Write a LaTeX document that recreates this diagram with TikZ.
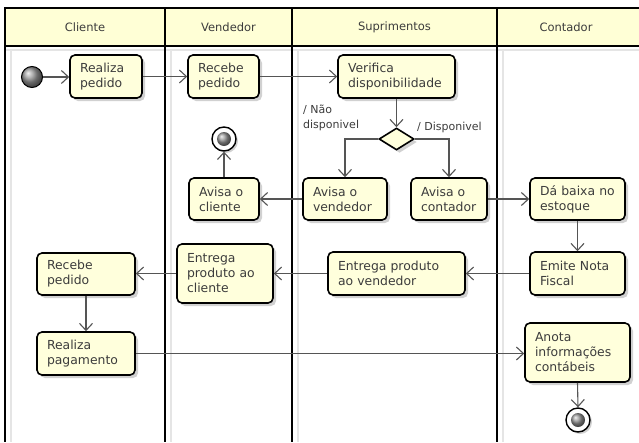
\documentclass[tikz,border=0pt]{standalone}
\usepackage{fontspec}
\setmainfont{DejaVu Sans}
\usetikzlibrary{arrows.meta,shapes.geometric,shadows,calc}
\definecolor{boxfill}{HTML}{FFFFDC}
\definecolor{headfill}{HTML}{FFFFD6}
\definecolor{txt}{HTML}{3C3C3C}
\definecolor{edgecol}{HTML}{555555}
\begin{document}
\begin{tikzpicture}[x=1pt,y=-1pt,
  actbox/.style={draw=black, line width=1.6pt, rounded corners=5pt, fill=boxfill,
    drop shadow={shadow xshift=3pt,shadow yshift=-3pt,fill=black,opacity=0.18},
    align=left, text=txt, font=\fontsize{12.4}{15}\selectfont,
    inner xsep=10pt, inner ysep=3pt, text width=#1, minimum height=43pt},
  flow/.style={draw=edgecol, line width=1.1pt, -{Straight Barb[length=7pt,width=13pt]}},
  lane/.style={line width=1.8pt, black},
  laneshadow/.style={line width=2pt, black!10},
  headtext/.style={text=txt, font=\fontsize{11.5}{15}\selectfont},
  guard/.style={text=txt, font=\fontsize{11}{15}\selectfont, inner sep=0pt, align=left},
  decision/.style={diamond, draw=black, line width=1.6pt, fill=boxfill, aspect=1.6,
    minimum width=35pt, minimum height=22pt, inner sep=0pt,
    drop shadow={shadow xshift=3pt,shadow yshift=-3pt,fill=black,opacity=0.18}},
  startnode/.style={circle, draw=black, line width=1pt, minimum size=21pt, inner sep=0pt,
    shading=ball, ball color=gray!80},
  endring/.style={circle, draw=black, line width=1.4pt, fill=white, minimum size=24pt, inner sep=0pt,
    drop shadow={shadow xshift=2pt,shadow yshift=-2pt,fill=black,opacity=0.18}},
  endcore/.style={circle, minimum size=14pt, inner sep=0pt, shading=ball, ball color=gray!80}
]
\useasboundingbox (0,0) rectangle (639,442);
\fill[white] (0,0) rectangle (639,442);
% header
\fill[headfill] (5,8) rectangle (639,46);
\draw[laneshadow] (5,50) -- (639,50);
\foreach \x in {5,165,292,497} { \draw[laneshadow] (\x+6,50) -- (\x+6,442); }
\draw[lane] (639,8) -- (5,8) -- (5,442);
\draw[lane] (5,46) -- (639,46);
\foreach \x in {165,292,497} { \draw[lane] (\x,8) -- (\x,442); }
\node[headtext] (h1) at (85,27) {Cliente};
\node[headtext] (h2) at (228.5,27) {Vendedor};
\node[headtext] (h3) at (394.5,27) {Suprimentos};
\node[headtext] (h4) at (566,27) {Contador};

% nodes
\node[startnode] (start) at (32,77) {};
\node[actbox=52pt] (n1) at (106,76.5) {Realiza\\pedido};
\node[actbox=51pt] (n2) at (223.5,76.5) {Recebe\\pedido};
\node[actbox=97pt] (n3) at (396.5,76.5) {Verifica\\disponibilidade};
\node[decision] (d) at (396.5,139) {};
\node[actbox=64pt, minimum height=42pt] (n4) at (345,199) {Avisa o\\vendedor};
\node[actbox=56pt, minimum height=42pt] (n5) at (449,199) {Avisa o\\contador};
\node[actbox=75pt, minimum height=42pt] (n6) at (577.5,199) {Dá baixa no\\estoque};
\node[actbox=50pt, minimum height=42pt] (n7) at (224,199) {Avisa o\\cliente};
\node[endring] (e1) at (224,139) {};
\node[endcore] (e1c) at (e1) {};
\node[actbox=75pt] (n8) at (577.5,273.5) {Emite Nota\\Fiscal};
\node[actbox=117pt] (n9) at (396.5,273.5) {Entrega produto\\ao vendedor};
\node[actbox=76pt, minimum height=59pt] (n10) at (225,273.5) {Entrega\\produto ao\\cliente};
\node[actbox=78pt, minimum height=42pt] (n11) at (86,274) {Recebe\\pedido};
\node[actbox=78pt] (n12) at (86,353.5) {Realiza\\pagamento};
\node[actbox=85pt, minimum height=59pt] (n13) at (577.5,352.5) {Anota\\informações\\contábeis};
\node[endring] (e2) at (578,420) {};
\node[endcore] (e2c) at (e2) {};

% guards
\node[guard, anchor=north west] (g1) at (303,105) {/ Não\\disponivel};
\node[guard, anchor=west] (g2) at (417,127) {/ Disponivel};

% connectors
\draw[flow] (start.east) -- (start.east -| n1.west);
\draw[flow] (n1.east) -- (n2.west);
\draw[flow] (n2.east) -- (n3.west);
\draw[flow] (n3.south) -- (d.north);
\draw[flow] (d.west) -| (n4.north);
\draw[flow] (d.east) -| (n5.north);
\draw[flow] (n4.west) -- (n7.east);
\draw[flow] (n7.north) -- (e1.south);
\draw[flow] (n5.east) -- (n6.west);
\draw[flow] (n6.south) -- (n8.north);
\draw[flow] (n8.west) -- (n9.east);
\draw[flow] (n9.west) -- (n10.east);
\draw[flow] (n10.west) -- (n10.west -| n11.east);
\draw[flow] (n11.south) -- (n12.north);
\draw[flow] (n12.east) -- (n12.east -| n13.west);
\draw[flow] (n13.south) -- (e2.north);
\end{tikzpicture}
\end{document}
